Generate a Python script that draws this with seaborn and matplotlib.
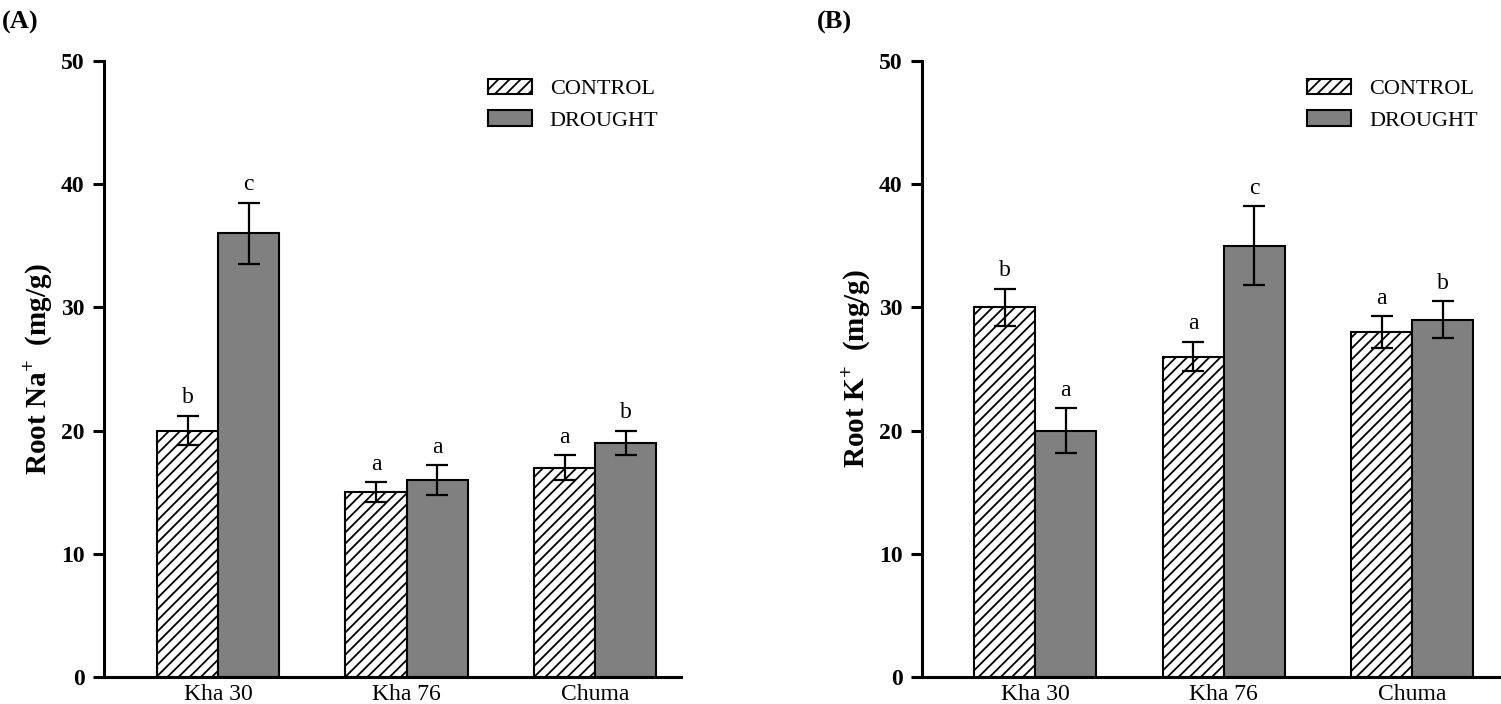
import pandas as pd
import seaborn as sns
import matplotlib.pyplot as plt
from matplotlib.patches import Patch

# cultivars and treatments
cultivars = ["Kha 30", "Kha 76", "Chuma"]
treatments = ["CONTROL", "DROUGHT"]

# panel A: root Na+ (mg/g)
na_control = [20, 15, 17]
na_drought = [36, 16, 19]
na_control_err = [1.2, 0.8, 1.0]
na_drought_err = [2.5, 1.2, 1.0]
na_control_letters = ["b", "a", "a"]
na_drought_letters = ["c", "a", "b"]

# panel B: root K+ (mg/g)
k_control = [30, 26, 28]
k_drought = [20, 35, 29]
k_control_err = [1.5, 1.2, 1.3]
k_drought_err = [1.8, 3.2, 1.5]
k_control_letters = ["b", "a", "a"]
k_drought_letters = ["a", "c", "b"]

sns.set_theme(style="ticks")
plt.rcParams["font.family"] = ["Liberation Serif", "DejaVu Serif"]
plt.rcParams["mathtext.fontset"] = "custom"
plt.rcParams["mathtext.rm"] = "Liberation Serif"
plt.rcParams["mathtext.bf"] = "Liberation Serif:bold"
plt.rcParams["hatch.linewidth"] = 1.3
for key in ["text.color", "axes.labelcolor", "xtick.color", "ytick.color", "axes.edgecolor"]:
    plt.rcParams[key] = "black"


def make_df(ctrl, drt):
    rows = []
    for i, c in enumerate(cultivars):
        rows.append({"cultivar": c, "treatment": "CONTROL", "value": ctrl[i]})
        rows.append({"cultivar": c, "treatment": "DROUGHT", "value": drt[i]})
    return pd.DataFrame(rows)


def draw_panel(ax, ctrl, drt, ctrl_err, drt_err, ctrl_let, drt_let, ylabel, xlim):
    df = make_df(ctrl, drt)
    sns.barplot(data=df, x="cultivar", y="value", hue="treatment",
                hue_order=treatments, order=cultivars,
                palette={"CONTROL": "white", "DROUGHT": "#808080"},
                width=0.648, edgecolor="black", linewidth=1.5,
                errorbar=None, legend=False, ax=ax)
    bars = ax.patches
    n = len(cultivars)
    vals = list(ctrl) + list(drt)
    errs = list(ctrl_err) + list(drt_err)
    lets = list(ctrl_let) + list(drt_let)
    for k, bar in enumerate(bars[:2 * n]):
        if k < n:
            bar.set_hatch("///")
        xc = bar.get_x() + bar.get_width() / 2
        ax.errorbar(xc, vals[k], yerr=errs[k], fmt="none", ecolor="black",
                    elinewidth=1.6, capsize=8, capthick=1.6, zorder=5)
        ax.text(xc, vals[k] + errs[k] + 0.6, lets[k], ha="center", va="bottom",
                fontsize=17)

    ax.set_ylim(0, 50)
    ax.set_xlim(*xlim)
    ax.set_yticks([0, 10, 20, 30, 40, 50])
    ax.set_xlabel("")
    ax.set_ylabel(ylabel, fontsize=21, fontweight="bold", labelpad=5)
    for lab in ax.get_yticklabels():
        lab.set_fontweight("bold")
    ax.tick_params(axis="y", labelsize=17, length=8, width=2.2, direction="out", pad=6)
    ax.tick_params(axis="x", labelsize=17, length=0, pad=5)
    sns.despine(ax=ax)
    for side in ["left", "bottom"]:
        ax.spines[side].set_linewidth(2.2)

    handles = [Patch(facecolor="white", edgecolor="black", hatch="///", linewidth=1.5),
               Patch(facecolor="#808080", edgecolor="black", linewidth=1.5)]
    ax.legend(handles, treatments, loc="upper left", bbox_to_anchor=(0.630, 1.004),
              frameon=False, fontsize=16, handlelength=2.0, handleheight=0.7,
              handletextpad=0.8, labelspacing=0.5)


fig = plt.figure(figsize=(15.01, 7.04), dpi=100)
ax1 = fig.add_axes([0.0693, 0.0384, 0.3844, 0.875])
ax2 = fig.add_axes([0.6142, 0.0384, 0.3858, 0.875])

draw_panel(ax1, na_control, na_drought, na_control_err, na_drought_err,
           na_control_letters, na_drought_letters,
           r"Root Na$^{\mathbf{+}}$  (mg/g)", (-0.605, 2.456))
draw_panel(ax2, k_control, k_drought, k_control_err, k_drought_err,
           k_control_letters, k_drought_letters,
           r"Root K$^{\mathbf{+}}$  (mg/g)", (-0.6, 2.47))

fig.text(0.001, 0.985, "(A)", fontsize=19, fontweight="bold", va="top")
fig.text(0.544, 0.985, "(B)", fontsize=19, fontweight="bold", va="top")

fig.savefig("out.png", dpi=100)
